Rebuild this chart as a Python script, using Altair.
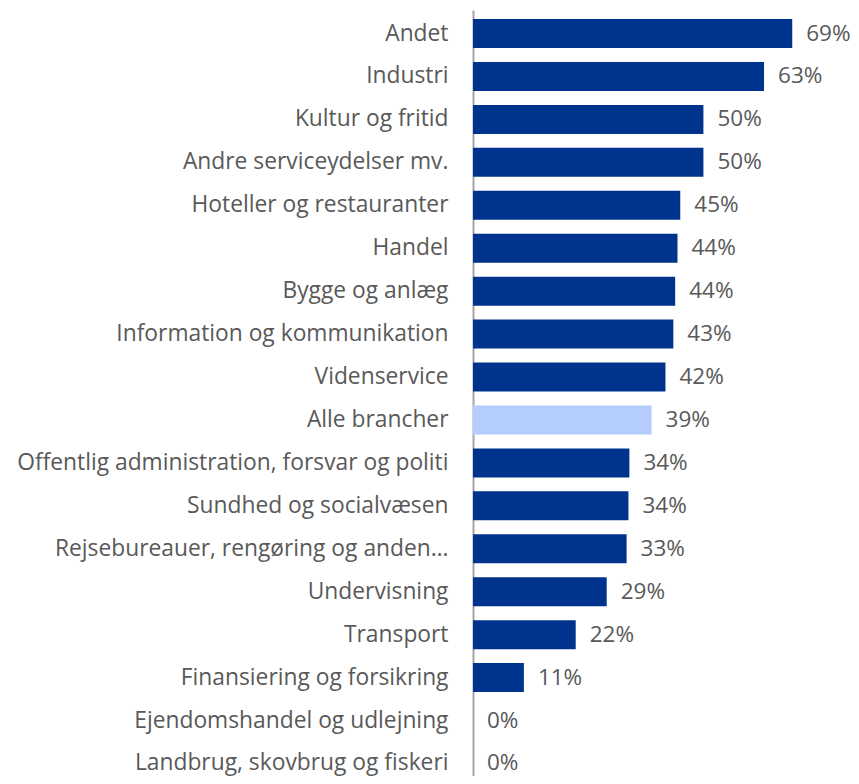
import altair as alt
import pandas as pd

categories = [
    "Andet", "Industri", "Kultur og fritid", "Andre serviceydelser  mv.",
    "Hoteller og restauranter", "Handel", "Bygge og anlæg",
    "Information og kommunikation", "Videnservice", "Alle brancher",
    "Offentlig administration, forsvar og politi", "Sundhed og socialvæsen",
    "Rejsebureauer, rengøring og anden…", "Undervisning", "Transport",
    "Finansiering og forsikring", "Ejendomshandel og udlejning",
    "Landbrug, skovbrug og fiskeri",
]
values = [0.690, 0.629, 0.498, 0.498, 0.448, 0.442, 0.437, 0.433, 0.416,
          0.386, 0.338, 0.336, 0.332, 0.289, 0.222, 0.110, 0.0, 0.0]
highlight = "Alle brancher"

df = pd.DataFrame({"kategori": categories, "andel": values})
df["gruppe"] = ["fremhævet" if c == highlight else "normal" for c in categories]

FONT = "Open Sans"
TXT = "#595959"

y = alt.Y("kategori:N", sort=categories, title=None,
          scale=alt.Scale(paddingInner=0.325, paddingOuter=0.21, range=[0, 777]),
          axis=alt.Axis(domain=True, domainColor="#a6a6a6", domainWidth=2,
                        ticks=False, labelPadding=25, labelFontSize=22.8,
                        labelFont=FONT, labelColor=TXT, labelLimit=600))
x = alt.X("andel:Q", title=None, axis=None,
          scale=alt.Scale(domain=[0, 0.817], nice=False, zero=True))

bars = alt.Chart(df).mark_bar().encode(
    x=x, y=y,
    color=alt.Color("gruppe:N", legend=None,
                    scale=alt.Scale(domain=["normal", "fremhævet"],
                                    range=["#00338d", "#b4cdfc"])),
)
labels = alt.Chart(df).mark_text(align="left", baseline="middle", dx=14,
                                 font=FONT, fontSize=22.5, color=TXT).encode(
    x=x, y=y, text=alt.Text("andel:Q", format=".0%"))

chart = (bars + labels).properties(
    width=378, height=766,
    autosize=alt.AutoSizeParams(type="none"),
    padding={"left": 465, "top": 2, "right": 0, "bottom": 0},
).configure_view(stroke=None)

chart.save("out.html", embed_options={"renderer": "svg", "actions": False})
